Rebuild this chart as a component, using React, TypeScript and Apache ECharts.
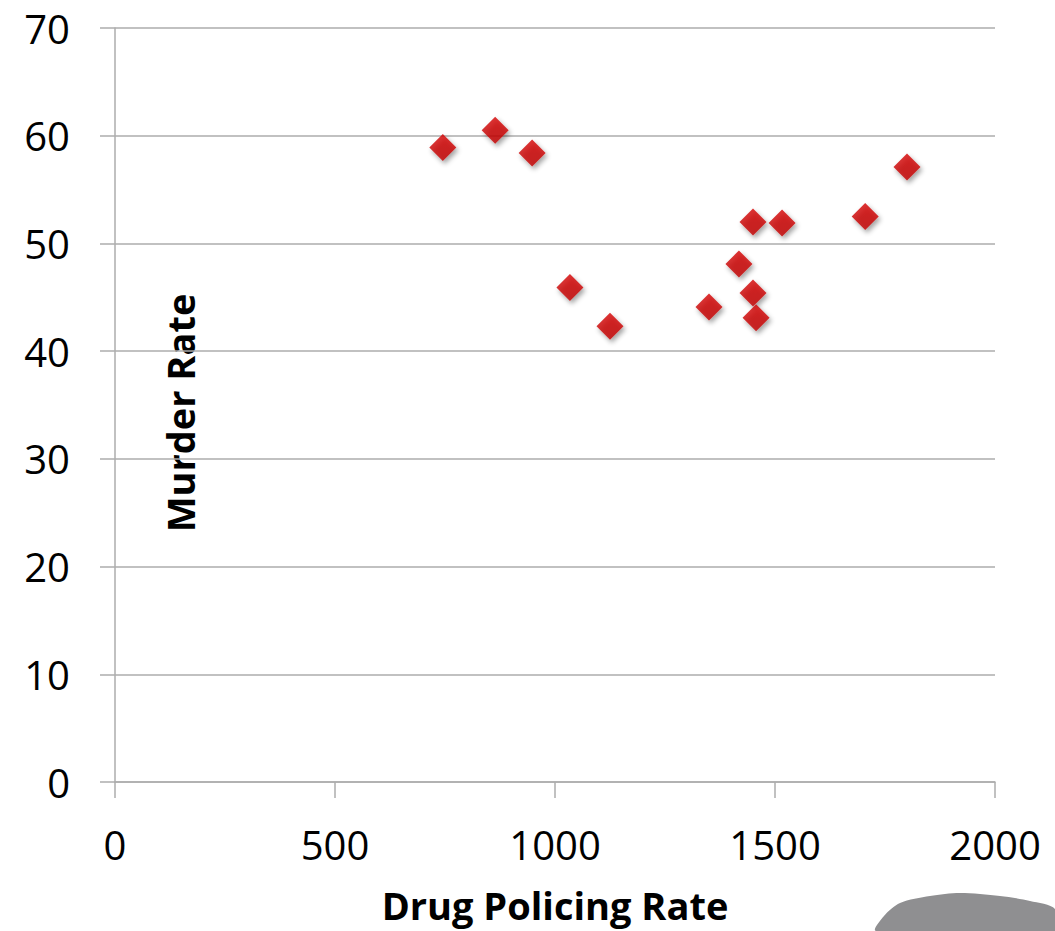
import React, { useEffect, useRef } from "react";
import * as echarts from "echarts";

const drugPolicingRate = [745, 864, 948, 1034, 1125, 1350, 1418, 1450, 1450, 1457, 1516, 1705, 1800];
const murderRate = [58.9, 60.5, 58.4, 45.9, 42.3, 44.1, 48.1, 52.0, 45.4, 43.1, 51.9, 52.5, 57.1];
const xTicks = [0, 500, 1000, 1500, 2000];
const yTicks = [0, 10, 20, 30, 40, 50, 60, 70];
const xTitle = "Drug Policing Rate";
const yTitle = "Murder Rate";

const FONT = "'Open Sans', 'DejaVu Sans', sans-serif";
const GRAY = "#adadad";

export default function App() {
  const ref = useRef<HTMLDivElement>(null);
  useEffect(() => {
    document.body.style.margin = "0";
    if (!ref.current) return;
    const chart = echarts.init(ref.current, undefined, { renderer: "svg" });
    const points = drugPolicingRate.map((x, i) => [x, murderRate[i]]);
    chart.setOption({
      animation: false,
      backgroundColor: "#ffffff",
      grid: { left: 115, right: 60, top: 28, bottom: 149, containLabel: false },
      xAxis: {
        type: "value",
        min: xTicks[0],
        max: xTicks[xTicks.length - 1],
        interval: 500,
        axisLine: { show: true, lineStyle: { color: GRAY, width: 1.5 } },
        axisTick: { show: true, length: 16, lineStyle: { color: GRAY, width: 1.5 } },
        splitLine: { show: false },
        axisLabel: {
          color: "#000",
          fontFamily: FONT,
          fontSize: 40,
          margin: 42,
          formatter: (v: number) => String(v),
        },
      },
      yAxis: {
        type: "value",
        min: yTicks[0],
        max: yTicks[yTicks.length - 1],
        interval: 10,
        axisLine: { show: true, lineStyle: { color: GRAY, width: 1.5 } },
        axisTick: { show: true, length: 15, lineStyle: { color: GRAY, width: 1.5 } },
        splitLine: { show: true, lineStyle: { color: GRAY, width: 1.5 } },
        axisLabel: {
          color: "#000",
          fontFamily: FONT,
          fontSize: 40,
          margin: 45,
          formatter: (v: number) => String(v),
        },
      },
      series: [
        {
          type: "scatter",
          data: points,
          symbol: "diamond",
          symbolSize: 27,
          itemStyle: {
            color: new echarts.graphic.LinearGradient(0, 0, 0, 1, [
              { offset: 0, color: "#d40000" },
              { offset: 1, color: "#c00000" },
            ]),
            shadowBlur: 5,
            shadowOffsetX: 2,
            shadowOffsetY: 3,
            shadowColor: "rgba(0,0,0,0.45)",
          },
        },
      ],
      graphic: [
        {
          type: "text",
          x: 555,
          y: 905,
          style: {
            text: xTitle,
            fontFamily: FONT,
            fontWeight: "bold",
            fontSize: 38,
            fill: "#000",
            textAlign: "center",
            textVerticalAlign: "middle",
          },
        },
        {
          type: "text",
          x: 180,
          y: 413,
          rotation: Math.PI / 2,
          style: {
            text: yTitle,
            fontFamily: FONT,
            fontWeight: "bold",
            fontSize: 38,
            fill: "#000",
            textAlign: "center",
            textVerticalAlign: "middle",
          },
        },
        {
          type: "polygon",
          shape: {
            points: [
              [876, 931],
              [884, 916],
              [900, 903],
              [930, 896],
              [960, 893],
              [1000, 896],
              [1030, 901],
              [1055, 909],
              [1055, 931],
            ],
            smooth: 0.3,
          },
          style: { fill: "#8f8f91" },
        },
      ],
    });
    return () => chart.dispose();
  }, []);
  return <div ref={ref} style={{ width: 1055, height: 931 }} />;
}
